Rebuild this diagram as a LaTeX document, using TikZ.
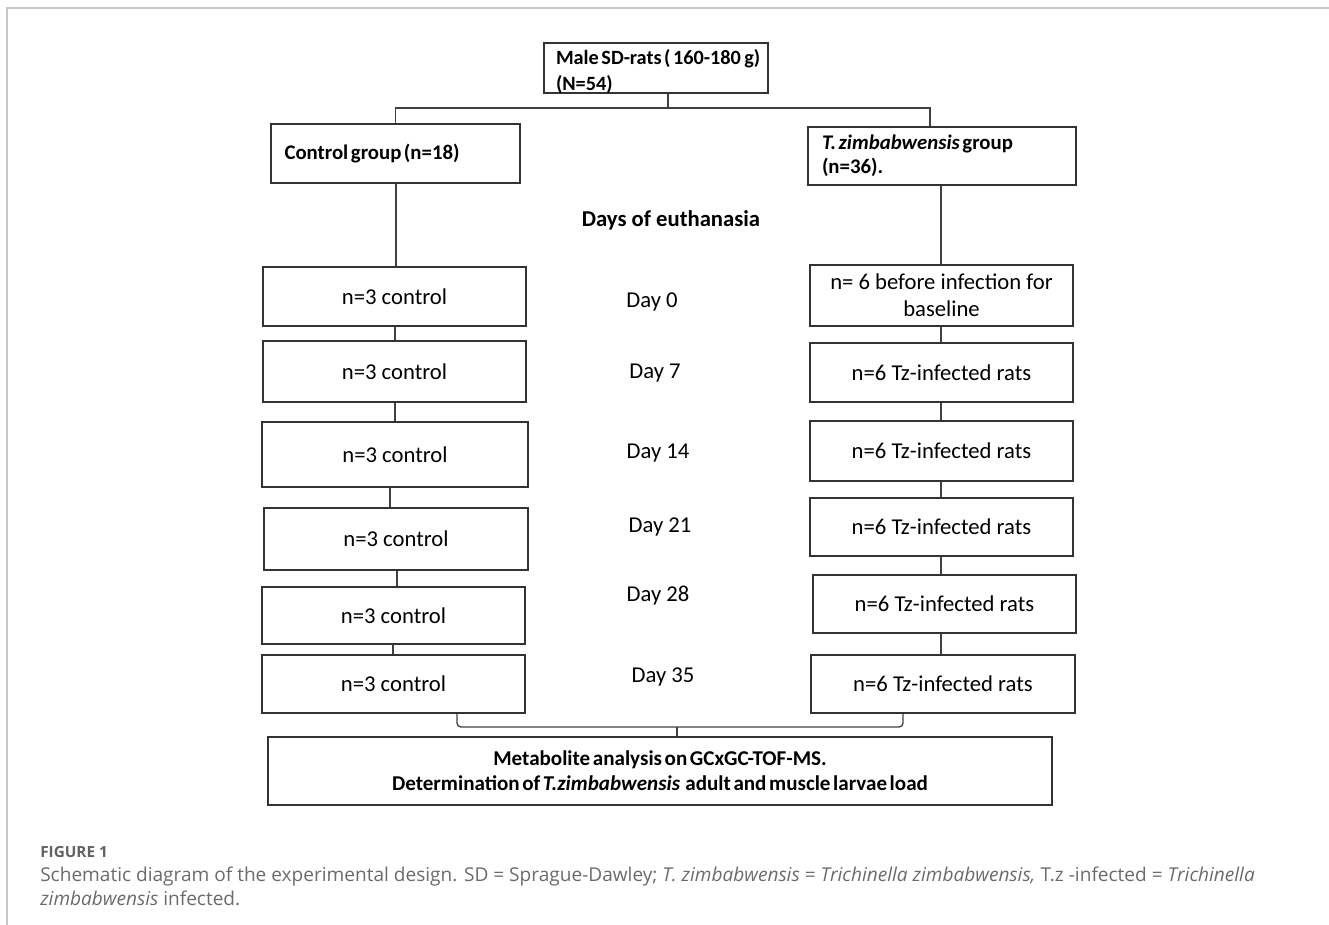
\documentclass[tikz,border=0pt]{standalone}
\usepackage{fontspec}
\setmainfont{Carlito}
\newfontfamily\tightbf{Carlito}[WordSpace=0.55]
\newfontfamily\capfont{Open Sans}
\begin{document}
\begin{tikzpicture}[x=0.75pt,y=-0.75pt,
  box/.style={draw=black!80,line width=1.1pt,rectangle,inner sep=0pt,font=\fontsize{17}{20}\selectfont},
  bbox/.style={box,align=flush left,font=\tightbf\bfseries\fontsize{15.6}{19.5}\selectfont},
  conn/.style={draw=black!75,line width=1pt},
  daylbl/.style={font=\fontsize{17}{20}\selectfont,inner sep=0pt},
  frame/.style={draw=black!22,line width=1.5pt}]
\useasboundingbox (0,0) rectangle (1329,925);
% page frame
\draw[frame] (7,925) -- (7,8) -- (1329,8);
% top
\node[bbox,minimum width=224*0.75pt,minimum height=50*0.75pt,text width=200*0.75pt,font=\tightbf\bfseries\fontsize{15.2}{19.5}\selectfont] (top) at (656,68) {\mbox{Male SD-rats ( 160-180\,g)}\\(N=54)\\[-22pt]\mbox{}};
\node[bbox,minimum width=249*0.75pt,minimum height=59*0.75pt,text width=222*0.75pt] (ctrl) at (395.5,153.5) {Control group (n=18)};
\node[bbox,minimum width=268*0.75pt,minimum height=58*0.75pt,text width=240*0.75pt,font=\tightbf\bfseries\fontsize{15.6}{18}\selectfont] (tz) at (942,156) {\textit{T. zimbabwensis} group\\(n=36).};
\coordinate (split) at (668,108);
\coordinate (xr) at (930,0);
\draw[conn] (top.south -| split) -- (split);
\draw[conn] (ctrl.north) |- (split) -| (tz.north -| xr);
\node[daylbl,font=\bfseries\fontsize{17}{20}\selectfont] (days) at (671,220) {Days of euthanasia};
% left column
\node[box,minimum width=263*0.75pt,minimum height=59*0.75pt] (L1) at (394.5,296.5) {n=3 control};
\node[box,minimum width=263*0.75pt,minimum height=61*0.75pt] (L2) at (394.5,371.5) {n=3 control};
\node[box,minimum width=266*0.75pt,minimum height=65*0.75pt] (L3) at (395,454.5) {n=3 control};
\node[box,minimum width=264*0.75pt,minimum height=62*0.75pt] (L4) at (396,539) {n=3 control};
\node[box,minimum width=263*0.75pt,minimum height=57*0.75pt] (L5) at (393.5,615.5) {n=3 control};
\node[box,minimum width=263*0.75pt,minimum height=58*0.75pt] (L6) at (393.5,684) {n=3 control};
% right column
\node[box,minimum width=263*0.75pt,minimum height=61*0.75pt,align=center,font=\fontsize{17}{20}\selectfont] (R1) at (941.5,295.5) {n= 6 before infection for\\baseline};
\node[box,minimum width=263*0.75pt,minimum height=59*0.75pt] (R2) at (941.5,372.5) {n=6 Tz-infected rats};
\node[box,minimum width=263*0.75pt,minimum height=60*0.75pt] (R3) at (941.5,451) {n=6 Tz-infected rats};
\node[box,minimum width=263*0.75pt,minimum height=58*0.75pt] (R4) at (941.5,527) {n=6 Tz-infected rats};
\node[box,minimum width=263*0.75pt,minimum height=58*0.75pt] (R5) at (944.5,604) {n=6 Tz-infected rats};
\node[box,minimum width=264*0.75pt,minimum height=58*0.75pt] (R6) at (943,684) {n=6 Tz-infected rats};
% day labels
\node[daylbl] (d0) at (652,302) {Day 0};
\node[daylbl] (d7) at (655,373) {Day 7};
\node[daylbl] (d14) at (658,453) {Day 14};
\node[daylbl] (d21) at (660,527) {Day 21};
\node[daylbl] (d28) at (658,596) {Day 28};
\node[daylbl] (d35) at (663,677) {Day 35};
% vertical connectors
\coordinate (cl) at (396,0);
\coordinate (cr) at (941,0);
\draw[conn] (ctrl.south -| cl) -- (L1.north -| cl);
\draw[conn] (tz.south -| cr) -- (R1.north -| cr);
\coordinate (a1) at (395,0);
\coordinate (a3) at (390,0);
\coordinate (a4) at (397,0);
\coordinate (a5) at (393,0);
\draw[conn] (L1.south -| a1) -- (L2.north -| a1);
\draw[conn] (L2.south -| a1) -- (L3.north -| a1);
\draw[conn] (L3.south -| a3) -- (L4.north -| a3);
\draw[conn] (L4.south -| a4) -- (L5.north -| a4);
\draw[conn] (L5.south -| a5) -- (L6.north -| a5);
\draw[conn] (R1.south -| cr) -- (R2.north -| cr);
\draw[conn] (R2.south -| cr) -- (R3.north -| cr);
\draw[conn] (R3.south -| cr) -- (R4.north -| cr);
\draw[conn] (R4.south -| cr) -- (R5.north -| cr);
\draw[conn] (R5.south -| cr) -- (R6.north -| cr);
% bottom
\node[box,minimum width=784*0.75pt,minimum height=68*0.75pt,align=center,font=\tightbf\bfseries\fontsize{15.8}{18.5}\selectfont] (bot) at (660,771) {Metabolite analysis on GCxGC-TOF-MS.\\Determination of \textit{T.zimbabwensis}\ \ adult and muscle larvae load};
\coordinate (bl) at (457,0);
\coordinate (br) at (903,0);
\coordinate (bk) at (677,727);
\draw[conn,rounded corners=3pt] (L6.south -| bl) |- (bk) -| (R6.south -| br);
\draw[conn] (bk) -- (bot.north -| bk);
% caption
\node[anchor=base west,inner sep=0pt,text=black!62,font=\capfont\bfseries\fontsize{11.5}{14}\selectfont] (fig) at (40,857) {FIGURE 1};
\node[anchor=base west,inner sep=0pt,text=black!58,font=\capfont\fontsize{14.3}{18}\selectfont] (cap1) at (40,881) {Schematic diagram of the experimental design. SD = Sprague-Dawley; \textit{T. zimbabwensis} = \textit{Trichinella zimbabwensis,} T.z -infected = \textit{Trichinella}};
\node[anchor=base west,inner sep=0pt,text=black!58,font=\capfont\fontsize{14.3}{18}\selectfont] (cap2) at (40,905) {\textit{zimbabwensis} infected.};
\end{tikzpicture}
\end{document}
